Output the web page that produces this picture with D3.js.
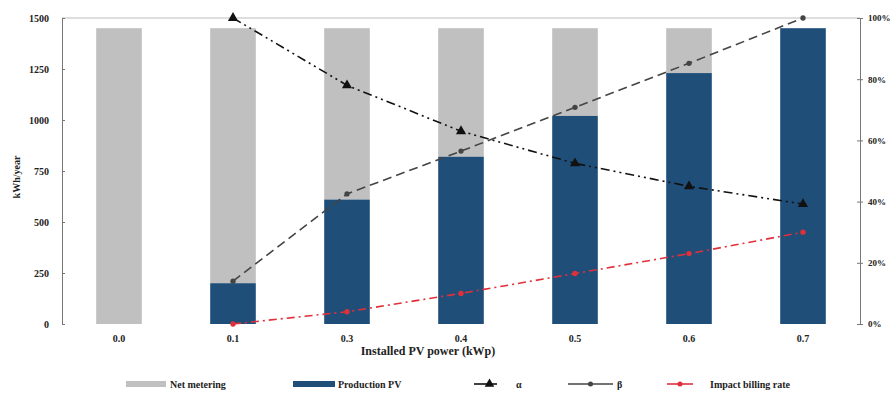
<!DOCTYPE html>
<html>
<head>
<meta charset="utf-8">
<script src="https://cdn.jsdelivr.net/npm/d3@7"></script>
<style>
  body { margin: 0; background: #fff; }
  svg text { font-family: "Liberation Serif", "DejaVu Serif", serif; font-weight: bold; fill: #222; }
</style>
</head>
<body>
<div id="chart"></div>
<script>
// values
const categories = ["0.0", "0.1", "0.3", "0.4", "0.5", "0.6", "0.7"];
const totalKwh = [1450, 1450, 1450, 1450, 1450, 1450, 1450];
const productionPV = [0, 200, 610, 820, 1020, 1230, 1450];
const alpha = [null, 100, 78, 63, 52.5, 45, 39.2];
const beta = [null, 14, 42.5, 56.5, 70.8, 85.2, 100];
const impactRate = [null, 0, 4, 10, 16.5, 23, 30];
const leftTicks = [0, 250, 500, 750, 1000, 1250, 1500];
const rightTicks = [0, 20, 40, 60, 80, 100];

const width = 891, height = 394;
const margin = { left: 62, right: 31, top: 18, bottom: 70 };

const svg = d3.select("#chart").append("svg")
    .attr("width", width)
    .attr("height", height);

const x = d3.scaleBand()
    .domain(categories)
    .range([margin.left, width - margin.right])
    .paddingInner(0.6)
    .paddingOuter(0.3);

const y = d3.scaleLinear().domain([0, 1500]).range([height - margin.bottom, margin.top]);
const y2 = d3.scaleLinear().domain([0, 100]).range([height - margin.bottom, margin.top]);

// top border
svg.append("line")
    .attr("x1", margin.left).attr("x2", width - margin.right)
    .attr("y1", margin.top).attr("y2", margin.top)
    .attr("stroke", "#bdbdbd");

// bars: net metering (grey) stacked on production PV (blue)
const netMetering = totalKwh.map((t, i) => t - productionPV[i]);

svg.selectAll("rect.net")
    .data(categories)
    .enter().append("rect")
    .attr("class", "net")
    .attr("x", d => x(d))
    .attr("width", x.bandwidth())
    .attr("y", (d, i) => y(productionPV[i] + netMetering[i]))
    .attr("height", (d, i) => y(productionPV[i]) - y(productionPV[i] + netMetering[i]))
    .attr("fill", "#c0c0c0");

svg.selectAll("rect.prod")
    .data(categories)
    .enter().append("rect")
    .attr("class", "prod")
    .attr("x", d => x(d))
    .attr("width", x.bandwidth())
    .attr("y", (d, i) => y(productionPV[i]))
    .attr("height", (d, i) => y(0) - y(productionPV[i]))
    .attr("fill", "#1f4e79");

// left axis
const leftAxis = svg.append("g")
    .attr("transform", `translate(${margin.left},0)`)
    .call(d3.axisLeft(y).tickValues(leftTicks).tickFormat(d3.format("d")).tickSize(3).tickSizeOuter(0));
leftAxis.select(".domain").attr("stroke", "#777");
leftAxis.selectAll(".tick line").attr("stroke", "#777").attr("x2", 3);
leftAxis.selectAll("text").attr("font-size", 10).attr("x", -13);

// right axis
const rightAxis = svg.append("g")
    .attr("transform", `translate(${width - margin.right},0)`)
    .call(d3.axisRight(y2).tickValues(rightTicks).tickFormat(d => d + "%").tickSize(3).tickSizeOuter(0));
rightAxis.select(".domain").attr("stroke", "#777");
rightAxis.selectAll(".tick line").attr("stroke", "#777").attr("x1", -3);
rightAxis.selectAll("text").attr("font-size", 9).attr("x", 8);

// x tick labels
svg.selectAll("text.xtick")
    .data(categories)
    .enter().append("text")
    .attr("class", "xtick")
    .attr("x", d => x(d) + x.bandwidth() / 2)
    .attr("y", 342)
    .attr("text-anchor", "middle")
    .attr("font-size", 10)
    .text(d => d);

svg.append("text")
    .attr("x", 428).attr("y", 355)
    .attr("text-anchor", "middle")
    .attr("font-size", 12)
    .text("Installed  PV power (kWp)");

svg.append("text")
    .attr("transform", "translate(20,177) rotate(-90)")
    .attr("text-anchor", "middle")
    .attr("font-size", 10)
    .text("kWh/year");

// lines
const cx = d => x(d) + x.bandwidth() / 2;
const series = [
    { name: "α", values: alpha, color: "#111", dash: "9,4,2,4,2,4", marker: "triangle", width: 1.6 },
    { name: "β", values: beta, color: "#444", dash: "9,5", marker: "circle", width: 1.6 },
    { name: "Impact billing rate", values: impactRate, color: "#e0303a", dash: "8,4,2,4", marker: "circle", width: 1.6 }
];

series.forEach(s => {
    const pts = categories.map((c, i) => [c, s.values[i]]).filter(p => p[1] !== null);
    const line = d3.line().x(p => cx(p[0])).y(p => y2(p[1]));
    svg.append("path")
        .datum(pts)
        .attr("d", line)
        .attr("fill", "none")
        .attr("stroke", s.color)
        .attr("stroke-width", s.width)
        .attr("stroke-dasharray", s.dash);
    const sym = s.marker === "triangle" ? d3.symbolTriangle : d3.symbolCircle;
    svg.selectAll(null)
        .data(pts)
        .enter().append("path")
        .attr("transform", p => `translate(${cx(p[0])},${y2(p[1])})`)
        .attr("d", d3.symbol().type(sym).size(s.marker === "triangle" ? 45 : 22))
        .attr("fill", s.color);
});

// legend
const ly = 384;
const legend = svg.append("g");
legend.append("rect").attr("x", 126).attr("y", ly - 3).attr("width", 40).attr("height", 6).attr("fill", "#c0c0c0");
legend.append("text").attr("x", 170).attr("y", ly + 3.5).attr("font-size", 10).text("Net metering");
legend.append("rect").attr("x", 293).attr("y", ly - 3).attr("width", 42).attr("height", 6).attr("fill", "#1f4e79");
legend.append("text").attr("x", 338).attr("y", ly + 3.5).attr("font-size", 10).text("Production PV");

const legLines = [
    { x1: 474, x2: 497, tx: 516, s: series[0] },
    { x1: 568, x2: 613, tx: 617, s: series[1] },
    { x1: 667, x2: 693, tx: 710, s: series[2] }
];
legLines.forEach(l => {
    legend.append("line")
        .attr("x1", l.x1).attr("x2", l.x2).attr("y1", ly).attr("y2", ly)
        .attr("stroke", l.s.color).attr("stroke-width", 1.6);
    const sym = l.s.marker === "triangle" ? d3.symbolTriangle : d3.symbolCircle;
    legend.append("path")
        .attr("transform", `translate(${(l.x1 + l.x2) / 2 + (l.s.marker === "triangle" ? 4 : 0)},${ly})`)
        .attr("d", d3.symbol().type(sym).size(l.s.marker === "triangle" ? 40 : 20))
        .attr("fill", l.s.color);
    legend.append("text").attr("x", l.tx).attr("y", ly + 3.5).attr("font-size", 10).text(l.s.name);
});
</script>
</body>
</html>
